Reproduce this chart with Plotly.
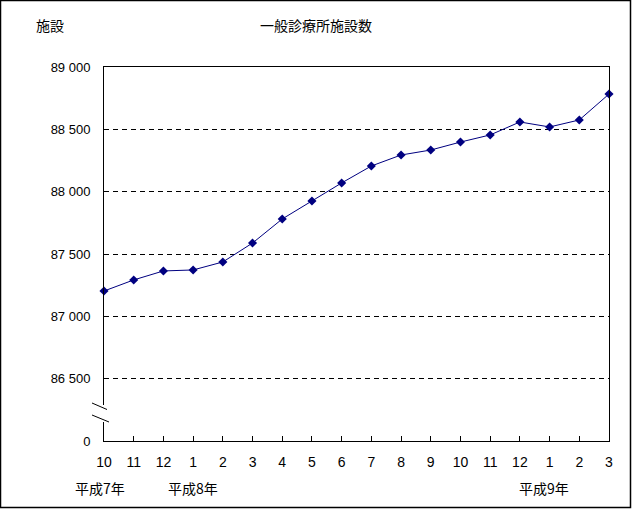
import plotly.graph_objects as go

# ---- data ----
months = ["10", "11", "12", "1", "2", "3", "4", "5", "6", "7", "8", "9",
          "10", "11", "12", "1", "2", "3"]
values = [87203, 87292, 87364, 87372, 87436, 87588, 87781, 87925, 88070,
          88206, 88294, 88334, 88398, 88455, 88559, 88519, 88575, 88783]
y_tickvals = [86000, 86500, 87000, 87500, 88000, 88500, 89000]
y_ticktext = ["0", "86 500", "87 000", "87 500", "88 000", "88 500", "89 000"]
year_labels = ["平成7年", "平成8年", "平成9年"]
year_pos = [-0.13, 3.0, 14.8]
title_text = "一般診療所施設数"
unit_text = "施設"

x_idx = list(range(len(months)))
x_max = len(months) - 1

NAVY = "#000080"
CJK = "Noto Sans CJK JP"
NUM = "Liberation Sans, Arial, sans-serif"

fig = go.Figure()
fig.add_trace(go.Scatter(
    x=x_idx, y=values, mode="lines+markers",
    line=dict(color=NAVY, width=1),
    marker=dict(symbol="diamond", size=7, color=NAVY),
    cliponaxis=False, showlegend=False,
))

W, H = 632, 509
L, R, T, B = 104, 23, 67, 68
pw, ph = W - L - R, H - T - B

def px(x):
    return (x - L) / pw

def py(y):
    return (H - B - y) / ph

shapes = [
    # outer frame
    dict(type="rect", xref="paper", yref="paper",
         x0=px(0.5), x1=px(630.5), y0=py(507.5), y1=py(0.5),
         line=dict(color="black", width=1.5), fillcolor="rgba(0,0,0,0)", layer="above"),
    # gap in axis for break
    dict(type="line", xref="paper", yref="paper",
         x0=0, x1=0, y0=py(422), y1=py(405),
         line=dict(color="white", width=3), layer="above"),
    dict(type="line", xref="paper", yref="paper",
         x0=px(92), x1=px(107), y0=py(403), y1=py(409.5),
         line=dict(color="black", width=1), layer="above"),
    dict(type="line", xref="paper", yref="paper",
         x0=px(92), x1=px(109), y0=py(415), y1=py(422),
         line=dict(color="black", width=1), layer="above"),
]

annotations = [
    dict(text=title_text, xref="paper", yref="paper", x=px(316), y=py(25),
         showarrow=False, font=dict(family=CJK, size=14, color="black"),
         xanchor="center", yanchor="middle"),
    dict(text=unit_text, xref="paper", yref="paper", x=px(50), y=py(25),
         showarrow=False, font=dict(family=CJK, size=14, color="black"),
         xanchor="center", yanchor="middle"),
]
for lbl, xp in zip(year_labels, year_pos):
    annotations.append(dict(text=lbl, xref="paper", yref="paper", x=xp / x_max, y=py(488),
                            showarrow=False, font=dict(family=CJK, size=14, color="black"),
                            xanchor="center", yanchor="middle"))

fig.update_layout(
    width=W, height=H,
    margin=dict(l=L, r=R, t=T, b=B, pad=0),
    paper_bgcolor="white", plot_bgcolor="white",
    font=dict(family=NUM, size=13, color="black"),
    shapes=shapes, annotations=annotations,
    xaxis=dict(
        range=[0, x_max], tickvals=x_idx, ticktext=months,
        showgrid=False, zeroline=False,
        showline=True, linecolor="black", linewidth=1, mirror=True,
        ticks="inside", ticklen=5, tickcolor="black",
        tickfont=dict(family=NUM, size=14), ticklabelstandoff=8,
    ),
    yaxis=dict(
        range=[86000, 89000], tickvals=y_tickvals, ticktext=y_ticktext,
        showgrid=True, gridcolor="black", gridwidth=1, griddash="5px,4px",
        zeroline=False,
        showline=True, linecolor="black", linewidth=1, mirror=True,
        ticks="", tickfont=dict(family=NUM, size=13), ticklabelstandoff=10,
    ),
)

fig.write_html("out.html", config={"displayModeBar": False},
               post_script="document.body.style.margin='0';document.body.style.overflow='hidden';")
